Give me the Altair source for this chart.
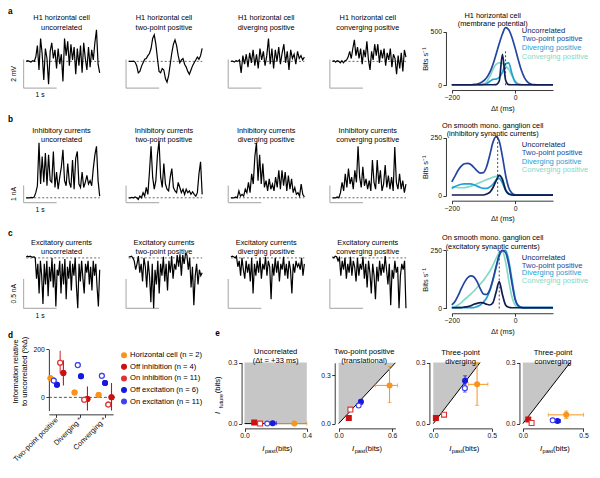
import altair as alt
import numpy as np
import pandas as pd

# ------------------------------------------------------------------ data
TRACE_TITLES = [
    ["H1 horizontal cell\nuncorrelated", "H1 horizontal cell\ntwo-point positive",
     "H1 horizontal cell\ndiverging positive", "H1 horizontal cell\nconverging positive"],
    ["Inhibitory currents\nuncorrelated", "Inhibitory currents\ntwo-point positive",
     "Inhibitory currents\ndiverging positive", "Inhibitory currents\nconverging positive"],
    ["Excitatory currents\nuncorrelated", "Excitatory currents\ntwo-point positive",
     "Excitatory currents\ndiverging positive", "Excitatory currents\nconverging positive"],
]
# row a: membrane potential (mV)
A1 = [0, 0.05, 0, -0.05, 0.05, 0, 0.3, 1.1, -0.6, 1.6, 0.5, -1.3, 0.9, 0.2, -1.6, 0.7, 1.3, 0.2, 0.8, -0.5,
      0.9, -0.2, 0.5, -1.4, 1.6, 0.4, 1.4, -0.3, 1.2, 0.1, 1.0, -0.9, 0.9, -0.3, 1.1, -0.8, 1.3, 0.2, -0.6,
      1.0, -0.4, 0.8, 0.1, 1.3, 2.2, -0.2, -0.8]
A2 = [0, 0, 0, 0.02, -0.05, -0.3, -0.8, -0.7, -0.35, -0.1, 0.15, 0.2, 0.4, 0.55, 0.9, 1.6, 1.85, 1.2, 0.2,
      -0.7, -0.8, -0.5, -0.6, -1.2, -1.45, -1.0, -0.2, 0.6, 1.2, 1.5, 1.1, 0.4, -0.1, 0.1, 0.2, -0.2, -0.4,
      -0.7, -0.9, -0.6, -0.3, -0.1, 0.1, 0.3, 0.15, 0.4, 0.9]
A3 = [0, 0.02, -0.05, 0.05, 0, 0.1, -0.8, 0.4, -0.2, 0.5, -0.4, 0.6, -0.1, 0.8, -0.3, 0.5, -0.5, 0.9, 0.1,
      0.7, -0.3, 0.4, 1.6, -0.2, 0.9, -0.5, 0.8, 0.0, 1.0, -0.2, 0.6, 1.2, -0.1, 0.7, -0.6, 0.8, 0.2, 0.5,
      -0.2, 0.7, 0.2, 0.4, 0.1, 0.3]
A4 = [0, 0.05, -0.05, 0.05, 0, -0.1, 0.05, -0.1, 0.05, 0.1, 0.3, 0.7, 0.2, 0.9, 1.5, 0.4, 1.0, 0.2, 0.9,
      -0.2, 0.8, 0.3, 1.4, 0.1, -0.6, 0.7, 0.1, 1.2, 0.4, 1.2, -0.1, 0.8, 0.2, 0.9, -0.3, 0.6, 0.1, 0.9,
      -0.4, 0.5, 0.2, -0.9, 0.4, -0.5, 0.6, -0.7, 0.8, 0.3]
# row b: inhibitory currents (nA)
B1 = [0, 0, 0, 0.02, 0, 0.05, 0.3, 0.7, 3.2, 0.8, 2.4, 0.9, 2.6, 0.7, 2.5, 1.0, 0.9, 2.7, 0.6, 1.5, 0.5,
      1.2, 1.8, 2.8, 1.0, 0.7, 2.0, 0.9, 0.6, 2.2, 0.5, 2.3, 2.7, 0.8, 0.6, 1.5, 0.6, 0.9, 1.3, 0.8, 1.0,
      0.7, 1.7, 2.5, 3.0, 1.0, 0.1]
B2 = [0, 0, 0.02, 0, 0.05, 0, -0.1, 0.1, 0, 0.3, 0.1, 0.6, 0.2, 1.5, 3.0, 1.2, 0.5, 1.0, 2.5, 3.3, 1.2,
      0.6, 2.0, 0.8, 0.5, 0.4, 1.2, 1.7, 0.6, 0.4, 0.3, 0.9, 0.6, 0.3, 0.5, 0.2, 0.5, 0.3, 0.4, 0.2, 0.35,
      0.2, 0.1, 0.3, 1.4, 2.1, 0.2]
B3 = [0, 0, 0, 0.05, 0, 0.4, 0.1, 0.2, 0.1, 0.5, 0.3, 0.9, 0.3, 1.4, 0.8, 2.4, 3.2, 1.0, 2.5, 0.8, 2.0,
      0.6, 1.0, 0.4, 1.1, 0.5, 0.8, 0.4, 1.2, 0.6, 1.6, 0.5, 1.6, 0.7, 1.5, 0.4, 1.3, 0.5, 1.1, 0.3, 0.6,
      0.2, 0.3, 0.1, 0.8, 0.2, 0.05]
B4 = [0, 0, 0, 0.05, 0, 0.3, 0.9, 0.4, 1.4, 0.6, 1.7, 0.8, 1.2, 0.5, 1.6, 0.9, 3.0, 1.2, 0.6, 1.8, 0.7,
      1.1, 0.5, 1.0, 0.4, 2.2, 0.9, 0.5, 2.2, 0.8, 1.6, 0.4, 0.8, 1.9, 0.6, 1.3, 0.5, 1.2, 0.4, 2.95, 0.9,
      0.5, 1.4, 0.5, 1.0, 0.3, 0.8]
# row c: excitatory currents (nA)
C1 = [0.02, 0.03, 0.02, 0.03, 0.02, 0.01, 0.02, 0.0, -0.35, -0.1, -0.6, -0.05, -0.3, -0.78, -0.1, -0.45,
      -0.05, -0.65, -0.15, -0.4, 0, -0.5, -0.1, -0.82, -0.2, -0.3, -0.05, -0.6, -0.1, -0.45, -0.02, -0.7,
      -0.15, -0.35, -0.05, -0.55, -0.1, -0.3, 0, -0.5, -0.85, -0.1, -0.4, -0.05, -0.35, -0.6, -0.1, -0.25,
      -0.05, -0.45, -0.15, -0.55, -0.05, -0.3, -0.1, -0.5, -0.82, -0.2]
C2 = [0.02, 0.02, 0.03, 0.0, -0.05, -0.2, -0.1, 0.03, -0.25, -0.1, -0.4, 0.0, -0.15, -0.5, -0.05, -0.3,
      -0.75, -0.1, -0.85, -0.2, -0.45, -0.05, -0.6, -0.1, -0.3, 0.02, -0.4, -0.1, -0.55, -0.05, -0.25, 0.03,
      -0.35, -0.1, -0.2, 0.05, -0.15, 0.06, -0.3, 0.05, -0.1, 0.07, 0.05, -0.2, 0.0, -0.5, -0.15, -0.8,
      -0.3, -0.1, -0.45, -0.2, -0.3, -0.25]
C3 = [0.02, 0.03, 0.02, 0.0, 0.03, -0.15, -0.05, -0.3, 0.0, -0.2, -0.35, -0.05, -0.25, -0.1, -0.4, 0.0,
      -0.6, -0.1, -0.3, -0.05, -0.25, 0.0, -0.35, -0.1, -0.2, 0.02, -0.3, -0.05, -0.15, -0.7, -0.1, -0.3,
      0.0, -0.25, -0.05, -0.4, -0.1, -0.2, 0.02, -0.3, -0.1, -0.35, -0.05, -0.2, -0.6, -0.1, -0.25, -0.05,
      -0.15, -0.1, -0.2, 0.0, -0.3, -0.1]
C4 = [0.02, 0.0, 0.03, 0.02, -0.05, 0.0, -0.3, -0.05, -0.2, 0.0, -0.35, -0.1, -0.25, 0.02, -0.3, -0.05,
      -0.15, -0.4, 0.0, -0.3, -0.1, -0.2, 0.02, -0.35, -0.1, -0.5, -0.05, -0.25, -0.6, -0.1, -0.3, -0.7,
      -0.15, -0.4, -0.05, -0.3, -0.1, -0.25, 0.03, -0.2, -0.45, -0.1, -0.8, -0.2, -0.35, -0.05, -0.25,
      -0.15, -0.85, -0.3, -0.1, -0.2, -0.05, -0.85]
TRACES = [[A1, A2, A3, A4], [B1, B2, B3, B4], [C1, C2, C3, C4]]
SCALEBAR_LEN = [2.0, 1.0, 0.5]          # vertical scale bar per row
SCALEBAR_TXT = ["2 mV", "1 nA", "0.5 nA"]
SCALEBAR_T = 1.0                         # 1 s

# info curves (bits/s), dt = -200..120 ms every 10 ms
DT = list(range(-200, 130, 10))
INFO_NAMES = ["Uncorrelated", "Two-point positive", "Diverging positive", "Converging positive"]
INFO_TITLES = ["H1 horizontal cell\n(membrane potential)",
               "On smooth mono. ganglion cell\n(inhibitory synaptic currents)",
               "On smooth mono. ganglion cell\n(excitatory synaptic currents)"]
INFO_A = {
    "Uncorrelated": [5]*14 + [6, 40, 290, 50, 6] + [5]*14,
    "Two-point positive": [5]*7 + [8, 12, 22, 40, 70, 120, 195, 290, 390, 480, 540, 520, 450, 350, 240,
                                   140, 70, 30, 12, 6] + [5]*6,
    "Diverging positive": [5]*10 + [8, 15, 35, 55, 58, 75, 120, 200, 210, 110, 30, 8] + [5]*11,
    "Converging positive": [5]*10 + [10, 30, 80, 150, 195, 210, 205, 180, 150, 90, 40, 15, 6] + [5]*10,
}
INFO_B = {
    "Uncorrelated": [4]*11 + [8, 15, 35, 65, 88, 70, 25, 8, 4] + [3]*13,
    "Two-point positive": [60, 85, 110, 128, 138, 140, 135, 122, 108, 98, 100, 125, 175, 230, 255, 235,
                           170, 90, 35, 12, 5] + [4]*12,
    "Diverging positive": [32, 40, 46, 50, 52, 52, 52, 48, 42, 36, 32, 32, 38, 50, 68, 75, 55, 25, 10, 5,
                           4] + [4]*12,
    "Converging positive": [40, 38, 36, 35, 36, 38, 42, 46, 52, 58, 64, 70, 75, 80, 84, 88, 75, 30, 8, 5,
                            4] + [4]*12,
}
INFO_C = {
    "Uncorrelated": [3, 3, 4, 4, 6, 8, 12, 18, 22, 25, 24, 18, 15, 25, 70, 115, 60, 15, 5, 3] + [3]*13,
    "Two-point positive": [15, 30, 55, 85, 112, 132, 140, 135, 115, 85, 62, 60, 80, 125, 180, 230, 250,
                           240, 190, 110, 40, 12, 5] + [4]*10,
    "Diverging positive": [4]*8 + [8, 15, 28, 45, 75, 120, 175, 225, 248, 250, 205, 125, 45, 12, 5] + [4]*10,
    "Converging positive": [5, 8, 15, 25, 38, 50, 62, 75, 90, 105, 120, 140, 160, 185, 215, 240, 245, 200,
                            120, 50, 15, 5] + [4]*11,
}
INFO = [INFO_A, INFO_B, INFO_C]
INFO_YTICK = [500, 250, 250]
PEAK_DT = [-30, -55, -50]
PEAK_TOP = [320, 248, 250]

# panel d
D_CATS = ["Two-point positive", "Diverging *", "Converging *"]
SERIES = ["Horizontal cell (n = 2)", "Off inhibition (n = 4)", "On inhibition (n = 11)",
          "Off excitation (n = 6)", "On excitation (n = 11)"]
D_VAL = {SERIES[0]: [80, 20, 10], SERIES[1]: [102, -7, 0], SERIES[2]: [145, -10, -30],
         SERIES[3]: [53, 88, 60], SERIES[4]: [70, 135, 90]}
D_LO = {SERIES[0]: [74, 10, 5], SERIES[1]: [50, -55, -55], SERIES[2]: [100, -18, -36],
        SERIES[3]: [47, 80, 55], SERIES[4]: [58, 122, 80]}
D_HI = {SERIES[0]: [86, 30, 15], SERIES[1]: [155, 45, 60], SERIES[2]: [195, -2, -24],
        SERIES[3]: [59, 96, 65], SERIES[4]: [82, 148, 100]}

# panel e (bits); per panel, one value per series (SERIES order)
E_TITLES = ["Uncorrelated\n(\u0394t = +33 ms)", "Two-point positive\n(translational)",
            "Three-point\ndiverging", "Three-point\nconverging"]
E_X = [[0.32, 0.0625, 0.10, 0.181, 0.146], [0.571, 0.114, 0.132, 0.25, 0.225],
       [0.375, 0.022, 0.092, 0.272, 0.27], [0.358, 0.045, 0.072, 0.286, 0.246]]
E_Y = [[0.0, 0.005, 0.0, 0.002, 0.0], [0.237, 0.035, 0.087, 0.135, 0.112],
       [0.193, 0.027, 0.044, 0.21, 0.174], [0.043, 0.02, 0.003, 0.013, 0.016]]
E_XLO = [[0.2, 0.0625, 0.10, 0.155, 0.146], [0.41, 0.114, 0.132, 0.23, 0.21],
         [0.3, 0.022, 0.08, 0.26, 0.25], [0.21, 0.045, 0.072, 0.26, 0.23]]
E_XHI = [[0.4, 0.0625, 0.10, 0.205, 0.146], [0.66, 0.114, 0.132, 0.27, 0.24],
         [0.467, 0.022, 0.105, 0.285, 0.29], [0.5, 0.045, 0.072, 0.31, 0.26]]
E_YLO = [[0.0, 0.005, 0.0, 0.002, 0.0], [0.13, 0.035, 0.087, 0.12, 0.1],
         [0.09, 0.015, 0.044, 0.185, 0.155], [0.025, 0.02, 0.003, 0.013, 0.016]]
E_YHI = [[0.0, 0.005, 0.0, 0.002, 0.0], [0.355, 0.035, 0.087, 0.15, 0.125],
         [0.3, 0.04, 0.044, 0.235, 0.195], [0.062, 0.02, 0.003, 0.013, 0.016]]
E_XMAX = [0.4, 0.636, 0.5, 0.5]
E_YMAX = [0.3, 0.377, 0.3, 0.3]
E_XTICKS = [[0, 0.4], [0, 0.6], [0, 0.5], [0, 0.5]]
E_BOUND_X = [[0, 0.4], [0, 0.636], [0, 0.4], [0, 0.39]]
E_BOUND_Y = [[0, 0], [0, 0.377], [0, 0.3], [0, 0.3]]

# ------------------------------------------------------------------ styles / layout
W, H = 582, 455
SX, SY = W / 598.0, H / 477.0
FONT = "Liberation Sans"
FSC = 0.97


def px(X):
    return round((X - 2) * SX, 2)


def py(Y):
    return round((Y - 1) * SY, 2)


ONE = pd.DataFrame({"k": [0]})
INFO_COLORS = {"Uncorrelated": "#101d52", "Two-point positive": "#2546a0",
               "Diverging positive": "#22a2d4", "Converging positive": "#82d9c6"}
STROKES = ["#f7941d", "#cc1010", "#dd3333", "#1818e0", "#4040f0"]
FILLS = ["#f7941d", "#cc1010", "white", "#1818e0", "white"]
CSCALE = alt.Scale(domain=SERIES, range=STROKES)
FSCALE = alt.Scale(domain=SERIES, range=FILLS)
LEG = alt.Legend(orient="none", legendX=px(117.3), legendY=py(361), title=None, labelFont=FONT,
                 labelFontSize=7.6, symbolSize=24, symbolStrokeWidth=1.1, symbolType="circle",
                 rowPadding=1.6, labelOffset=2.2, padding=0, labelLimit=300, labelColor="#000000")

layers = []


def text(s, X, Y, size=7.6, align="center", angle=0, color="#000000", weight="normal",
         style="normal", lh=9.0):
    kw = dict(align=align, baseline="middle", angle=angle, fontSize=round(size * FSC, 2), font=FONT,
              fill=color, fontWeight=weight, fontStyle=style)
    if "\n" in s:
        kw["lineBreak"] = "\n"
        kw["lineHeight"] = lh * SY
    return alt.Chart(ONE).mark_text(**kw).encode(
        x=alt.value(px(X)), y=alt.value(py(Y)), text=alt.value(s))


# ---------------- rows a-c traces
COL_X = [18, 123.3, 228.3, 332.7]
ROW_DOM = [[-1.87, 2.4], [-0.28, 3.5], [-0.855, 0.08]]
ROW_YB = [85, 205, 316]
ROW_PXU = [15, 18, 62]          # pixels per unit (reference)
ROW_TITLE_Y = [12, 130, 247.5]
T0, T1 = 0.08, 2.3

for r in range(3):
    dom = ROW_DOM[r]
    yb = ROW_YB[r]
    yt = yb - (dom[1] - dom[0]) * ROW_PXU[r]
    ys = alt.Scale(domain=dom, range=[py(yb), py(yt)], nice=False, zero=False)
    for c in range(4):
        xc = COL_X[c]
        xs = alt.Scale(domain=[0, 2.35], range=[px(xc), px(xc + 2.35 * 34)], nice=False, zero=False)
        vals = TRACES[r][c]
        df = pd.DataFrame({"t": np.linspace(T0, T1, len(vals)), "v": vals})
        X = alt.X("t:Q", scale=xs, axis=None)
        Y = alt.Y("v:Q", scale=ys, axis=None)
        base = alt.Chart(pd.DataFrame({"t": [T0], "t2": [T1], "v": [0.0]})).mark_rule(
            strokeDash=[2, 2], color="#555555", strokeWidth=0.9).encode(X, alt.X2("t2"), Y)
        line = alt.Chart(df).mark_line(color="black", strokeWidth=1.2).encode(X, Y)
        vbar = alt.Chart(pd.DataFrame({"t": [0.0], "v": [dom[0]], "v2": [dom[0] + SCALEBAR_LEN[r]]})).mark_rule(
            color="#b4b4b4", strokeWidth=1.2).encode(X, Y, alt.Y2("v2"))
        hbar = alt.Chart(pd.DataFrame({"t": [0.0], "t2": [SCALEBAR_T], "v": [dom[0]]})).mark_rule(
            color="#b4b4b4", strokeWidth=1.2).encode(X, alt.X2("t2"), Y)
        layers.append(alt.layer(vbar, hbar, base, line))
        layers.append(text(TRACE_TITLES[r][c], xc + 39, ROW_TITLE_Y[r], lh=9.5))
    # scale bar labels
    layers.append(text(SCALEBAR_TXT[r], 8, yb - SCALEBAR_LEN[r] * ROW_PXU[r] / 2, size=7, angle=270))
    layers.append(text("1 s", 35, yb + 7.5, size=7))

# ---------------- info panels
INFO_YB = [82, 198, 316]
INFO_YT = [26, 137, 255]
INFO_XAX = [87, 203, 321]
INFO_TITLE_Y = [9, 124.5, 242.5]
INFO_LEG_Y = [[25, 34, 43, 52], [145, 153.5, 162, 170.5], [263, 271, 279, 287]]
for r in range(3):
    xs = alt.Scale(domain=[-200, 120], range=[px(458), px(562)], nice=False, zero=False)
    ys = alt.Scale(domain=[0, INFO_YTICK[r]], range=[py(INFO_YB[r]), py(INFO_YT[r])], nice=False, zero=False)
    xax = alt.Axis(values=[-200, 0], orient="bottom", offset=py(INFO_XAX[r]) - H, title="\u0394t (ms)",
                   titlePadding=3)
    yax = alt.Axis(values=[0, INFO_YTICK[r]], orient="left", offset=-px(452), title="Bits s\u207b\u00b9",
                   titlePadding=1)
    sub = []
    for name in ["Converging positive", "Diverging positive", "Two-point positive", "Uncorrelated"]:
        df = pd.DataFrame({"dt": DT, "v": INFO[r][name]})
        sub.append(alt.Chart(df).mark_line(color=INFO_COLORS[name], strokeWidth=1.7,
                                           interpolate="monotone").encode(
            alt.X("dt:Q", scale=xs, axis=xax), alt.Y("v:Q", scale=ys, axis=yax)))
    dash = alt.Chart(pd.DataFrame({"dt": [PEAK_DT[r]], "v": [0], "v2": [PEAK_TOP[r]]})).mark_rule(
        strokeDash=[2, 2], color="#333333", strokeWidth=0.9).encode(
        alt.X("dt:Q", scale=xs, axis=xax), alt.Y("v:Q", scale=ys, axis=yax), alt.Y2("v2"))
    sub.append(dash)
    layers.append(alt.layer(*sub))
    layers.append(text(INFO_TITLES[r], 500, INFO_TITLE_Y[r], lh=8.8))
    for name, yy in zip(INFO_NAMES, INFO_LEG_Y[r]):
        layers.append(text(name, 530, yy, size=7.8, align="left", color=INFO_COLORS[name]))

# ---------------- panel d
rows = []
for s in SERIES:
    for i, cat in enumerate(D_CATS):
        rows.append({"cat": cat, "series": s, "v": D_VAL[s][i], "lo": D_LO[s][i], "hi": D_HI[s][i]})
ddf = pd.DataFrame(rows)
OFF_ORDER = [SERIES[0], SERIES[4], SERIES[3], SERIES[2], SERIES[1]]
dxs = alt.Scale(domain=D_CATS, range=[px(44), px(110)], paddingInner=0.33, paddingOuter=0)
dys = alt.Scale(domain=[-55, 200], range=[py(423), py(359)], nice=False, zero=False)
dxax = alt.Axis(orient="bottom", offset=py(427) - H, labelAngle=315, labelAlign="right",
                labelBaseline="middle", title=None, labelFontSize=7.4, labelPadding=1, labelLimit=200)
dyax = alt.Axis(orient="left", values=[0, 200], offset=-px(44), title=None)
DX = alt.X("cat:N", scale=dxs, axis=dxax, sort=D_CATS)
DXO = alt.XOffset("series:N", scale=alt.Scale(domain=OFF_ORDER))
dpts = alt.Chart(ddf).mark_point(shape="circle", size=24, strokeWidth=1.1, opacity=1).encode(
    DX, DXO, alt.Y("v:Q", scale=dys, axis=dyax),
    color=alt.Color("series:N", scale=CSCALE, legend=LEG),
    fill=alt.Fill("series:N", scale=FSCALE, legend=LEG))
zero = alt.Chart(pd.DataFrame({"v": [0]})).mark_rule(strokeDash=[3, 2], color="#444444",
                                                     strokeWidth=0.9).encode(
    x=alt.value(px(44)), x2=alt.value(px(112)), y=alt.Y("v:Q", scale=dys, axis=dyax))
derr = alt.Chart(ddf).mark_rule(strokeWidth=1.1).encode(
    DX, DXO, alt.Y("lo:Q", scale=dys, axis=dyax), alt.Y2("hi"),
    color=alt.Color("series:N", scale=CSCALE, legend=LEG))
layers.append(alt.layer(dpts, zero, derr, dpts))
layers.append(text("Information relative\nto uncorrelated (%\u0394)", 10, 382, size=7.8, angle=270, lh=10))

# ---------------- panel e
E_XR = [[245, 309], [341.7, 400], [439, 499], [531, 593.3]]
E_YAX = [242, 337.7, 435, 527.5]
E_TOPY = [372.7, 373, 372.7, 372.7]
for k in range(4):
    xs = alt.Scale(domain=[0, E_XMAX[k]], range=[px(E_XR[k][0]), px(E_XR[k][1])], nice=False, zero=False)
    ys = alt.Scale(domain=[0, E_YMAX[k]], range=[py(436.7), py(E_TOPY[k])], nice=False, zero=False)
    xax = alt.Axis(values=E_XTICKS[k], orient="bottom", offset=py(441.7) - H, title=None)
    yax = alt.Axis(values=[0, 0.3], orient="left", offset=-px(E_YAX[k]), title=None)
    X = lambda f: alt.X(f, type="quantitative", scale=xs, axis=xax)
    Y = lambda f: alt.Y(f, type="quantitative", scale=ys, axis=yax)
    bd = pd.DataFrame({"x": E_BOUND_X[k], "y": E_BOUND_Y[k], "top": [E_YMAX[k]] * 2})
    area = alt.Chart(bd).mark_area(color="#c6c6c6", opacity=1).encode(X("x"), Y("y"), alt.Y2("top"))
    bline = alt.Chart(bd).mark_line(color="black", strokeWidth=1.0).encode(X("x"), Y("y"))
    edf = pd.DataFrame({"series": SERIES, "x": E_X[k], "y": E_Y[k], "xlo": E_XLO[k], "xhi": E_XHI[k],
                        "ylo": E_YLO[k], "yhi": E_YHI[k]})
    col = alt.Color("series:N", scale=CSCALE, legend=LEG)
    fil = alt.Fill("series:N", scale=FSCALE, legend=LEG)
    hx = alt.Chart(edf).mark_rule(strokeWidth=1.0).encode(X("xlo"), alt.X2("xhi"), Y("y"), col)
    vy = alt.Chart(edf).mark_rule(strokeWidth=1.0).encode(X("x"), Y("ylo"), alt.Y2("yhi"), col)
    cap1 = alt.Chart(edf).mark_tick(orient="vertical", size=4, thickness=1).encode(X("xlo"), Y("y"), col)
    cap2 = alt.Chart(edf).mark_tick(orient="vertical", size=4, thickness=1).encode(X("xhi"), Y("y"), col)
    cap3 = alt.Chart(edf).mark_tick(orient="horizontal", size=4, thickness=1).encode(X("x"), Y("ylo"), col)
    cap4 = alt.Chart(edf).mark_tick(orient="horizontal", size=4, thickness=1).encode(X("x"), Y("yhi"), col)
    red = edf[edf.series.isin([SERIES[1], SERIES[2]])]
    other = edf[~edf.series.isin([SERIES[1], SERIES[2]])]
    p1 = alt.Chart(other).mark_point(shape="circle", size=24, strokeWidth=1.1, opacity=1).encode(
        X("x"), Y("y"), col, fil)
    p2 = alt.Chart(red).mark_point(shape="square", size=24, strokeWidth=1.1, opacity=1).encode(
        X("x"), Y("y"), col, fil)
    layers.append(alt.layer(area, bline, hx, vy, cap1, cap2, cap3, cap4, p1, p2))
    cx = (E_XR[k][0] + E_XR[k][0] + (E_XR[k][1] - E_XR[k][0]) * E_XTICKS[k][1] / E_XMAX[k]) / 2
    layers.append(text(E_TITLES[k], [277, 368, 467, 562][k], [361.5, 361.5, 362.5, 362.5][k], size=7.8, lh=9.5))
    layers.append(text("I", cx - 12.5, 463, size=8.2, style="italic"))
    layers.append(text("past", cx - 5.5, 465.5, size=5.8))
    layers.append(text("(bits)", cx + 8.5, 463, size=7.8))

# y-title of e1
layers.append(text("(bits)", 218, 396, size=7.8, angle=270))
layers.append(text("future", 220.5, 413, size=5.8, angle=270))
layers.append(text("I", 218, 425.5, size=8.2, angle=270, style="italic"))

# panel letters
for s, X, Y in [("a", 2, 5), ("b", 2, 118), ("c", 2, 238), ("d", 2, 345), ("e", 215, 343)]:
    layers.append(text(s, X, Y, size=8.5, align="left", weight="bold"))

chart = alt.layer(*layers).resolve_scale(x="independent", y="independent").properties(
    width=W, height=H, padding=0, autosize=alt.AutoSizeParams(type="none")
).configure_view(stroke=None).configure_axis(
    labelFont=FONT, titleFont=FONT, labelFontSize=6.8, titleFontSize=7.4, titleFontWeight="normal",
    tickSize=3, domainWidth=0.9, tickWidth=0.9, domainColor="#222222", tickColor="#222222",
    labelColor="#111111", titleColor="#111111", grid=False, labelPadding=1.5, labelFlush=False
)

chart.save("out.html", embed_options={"renderer": "svg", "actions": False})
